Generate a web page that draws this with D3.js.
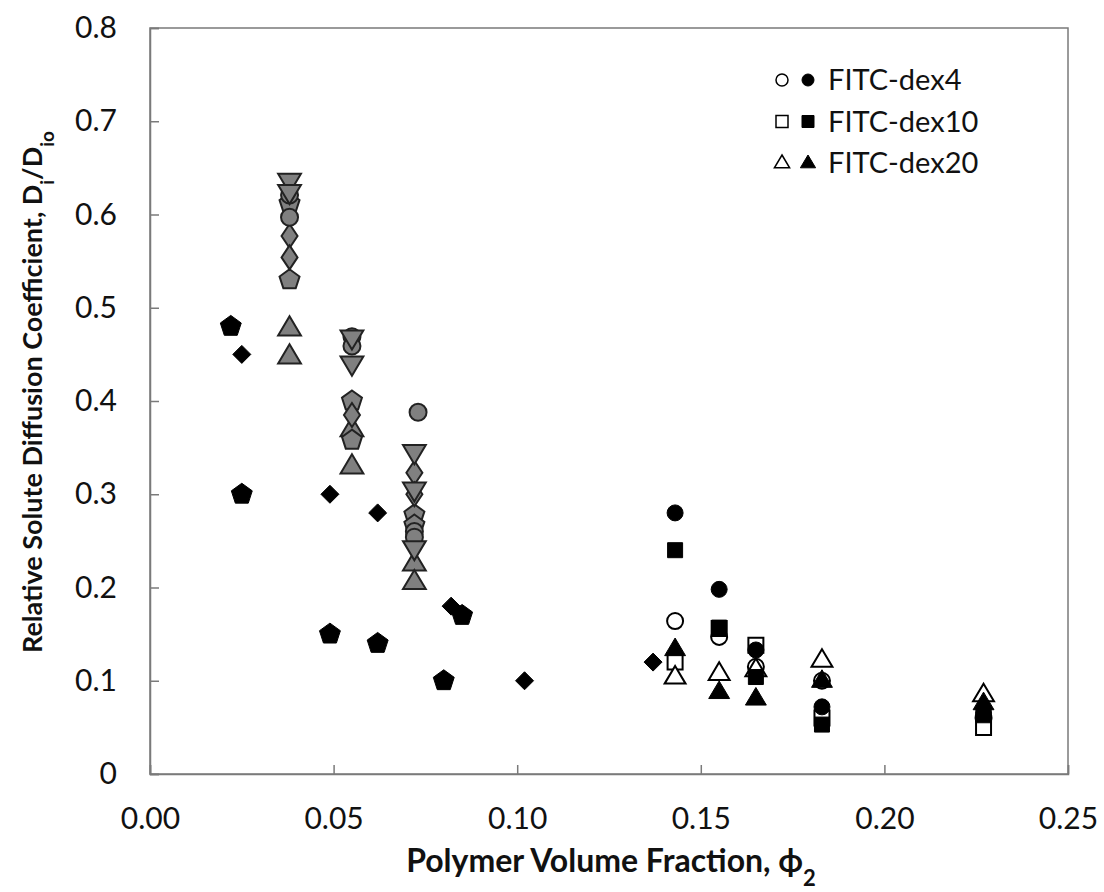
<!DOCTYPE html>
<html><head><meta charset="utf-8">
<script src="https://cdn.jsdelivr.net/npm/d3@7"></script>
<style>body{margin:0;background:#fff}</style>
</head><body>
<svg id="c" width="1104" height="892"></svg>
<script>
const xTicks = [0, 0.05, 0.10, 0.15, 0.20, 0.25];
const yTicks = [0, 0.1, 0.2, 0.3, 0.4, 0.5, 0.6, 0.7, 0.8];

// black (literature) series
const blackPentagon = [[0.022,0.48],[0.025,0.30],[0.049,0.15],[0.062,0.14],[0.080,0.10],[0.085,0.17]];
const blackDiamond = [[0.025,0.45],[0.049,0.30],[0.062,0.28],[0.082,0.18],[0.102,0.10],[0.137,0.12]];

// gray series
const grayTriUp = [[0.038,0.478],[0.038,0.448],[0.055,0.370],[0.055,0.330],[0.072,0.226],[0.072,0.206]];
const grayPentagon = [[0.038,0.530],[0.038,0.612],[0.055,0.400],[0.055,0.358],[0.072,0.278],[0.072,0.267]];
const grayDiamond = [[0.038,0.577],[0.038,0.554],[0.055,0.385],[0.072,0.323],[0.072,0.300]];
const grayCircle = [[0.038,0.621],[0.038,0.597],[0.055,0.469],[0.055,0.459],[0.073,0.388],[0.072,0.260],[0.072,0.254]];
const grayTriDown = [[0.038,0.636],[0.038,0.624],[0.055,0.468],[0.055,0.440],[0.072,0.345],[0.072,0.305],[0.072,0.242]];

// FITC-dextran series
const phi = [0.143, 0.155, 0.165, 0.183, 0.227];
const dex4Open = [0.164, 0.147, 0.115, 0.100, 0.060];
const dex4Filled = [0.280, 0.198, 0.133, 0.072, 0.065];
const dex10Open = [0.120, 0.156, 0.138, 0.060, 0.050];
const dex10Filled = [0.240, 0.157, 0.104, 0.053, 0.063];
const dex20Open = [0.104, 0.108, 0.112, 0.122, 0.085];
const dex20Filled = [0.134, 0.088, 0.081, 0.100, 0.076];

const legendNames = ["FITC-dex4", "FITC-dex10", "FITC-dex20"];

const svg = d3.select("#c");
const L = 150, R = 1068, T = 28, B = 774;
const x = d3.scaleLinear().domain([0, 0.25]).range([L, R]);
const y = d3.scaleLinear().domain([0, 0.8]).range([B, T]);
const FONT = "Lato, 'Open Sans', sans-serif";

// frame
svg.append("rect").attr("x", L).attr("y", T).attr("width", R - L).attr("height", B - T)
  .attr("fill", "none").attr("stroke", "#7a7a7a").attr("stroke-width", 1.5);

const xAx = svg.append("g").attr("transform", `translate(0,${B})`)
  .call(d3.axisBottom(x).tickValues(xTicks).tickSize(-9).tickPadding(34).tickFormat(d3.format(".2f")));
const yAx = svg.append("g").attr("transform", `translate(${L},0)`)
  .call(d3.axisLeft(y).tickValues(yTicks).tickSize(-9).tickPadding(33).tickFormat(d => d === 0 ? "0" : d3.format(".1f")(d)));
[xAx, yAx].forEach(g => {
  g.select(".domain").attr("stroke", "#7a7a7a").attr("stroke-width", 1.5);
  g.selectAll(".tick line").attr("stroke", "#7a7a7a").attr("stroke-width", 1.5);
  g.selectAll("text").attr("font-family", FONT).attr("font-size", 30).attr("fill", "#111");
});

// axis titles
svg.append("text").attr("x", 611).attr("y", 872).attr("text-anchor", "middle")
  .attr("font-family", FONT).attr("font-weight", "bold").attr("font-size", 32).attr("fill", "#111")
  .html('Polymer Volume Fraction, ϕ<tspan baseline-shift="sub" font-size="22">2</tspan>');
svg.append("text").attr("transform", "translate(42,392) rotate(-90)").attr("text-anchor", "middle")
  .attr("font-family", FONT).attr("font-weight", "bold").attr("font-size", 27).attr("fill", "#111")
  .html('Relative Solute Diffusion Coefficient, D<tspan baseline-shift="sub" font-size="19">i</tspan>/D<tspan baseline-shift="sub" font-size="19">io</tspan>');

function pentagonPath(r) {
  const pts = d3.range(5).map(i => { const a = -Math.PI / 2 + i * 2 * Math.PI / 5; return [r * Math.cos(a), r * Math.sin(a)]; });
  return "M" + pts.map(p => p.join(",")).join("L") + "Z";
}
function triPath(r, down) {
  const s = down ? -1 : 1;
  return `M0,${-s * r}L${r * 0.95},${s * r * 0.6}L${-r * 0.95},${s * r * 0.6}Z`;
}
function diamondPath(w, h) { return `M0,${-h}L${w},0L0,${h}L${-w},0Z`; }
function circlePath(r) { return d3.arc()({innerRadius:0, outerRadius:r, startAngle:0, endAngle:2*Math.PI}); }
function squarePath(h) { return `M${-h},${-h}L${h},${-h}L${h},${h}L${-h},${h}Z`; }

function plot(data, path, fill, stroke, sw) {
  svg.append("g").selectAll("path").data(data).join("path")
    .attr("transform", d => `translate(${x(d[0])},${y(d[1])})`)
    .attr("d", path).attr("fill", fill).attr("stroke", stroke).attr("stroke-width", sw);
}

plot(blackPentagon, pentagonPath(11), "#000", "#000", 1);
plot(blackDiamond, diamondPath(9, 9), "#000", "#000", 1);

const G = "#808080", GS = "#222";
plot(grayTriUp, triPath(12, false), G, GS, 2);
plot(grayPentagon, pentagonPath(10.5), G, GS, 2);
plot(grayDiamond, diamondPath(8, 12), G, GS, 2);
plot(grayCircle, circlePath(8.5), G, GS, 2);
plot(grayTriDown, triPath(12, true), G, GS, 2);

const zip = vals => phi.map((p, i) => [p, vals[i]]);
plot(zip(dex4Open), circlePath(8), "#fff", "#000", 2);
plot(zip(dex10Open), squarePath(7.5), "#fff", "#000", 2);
plot(zip(dex20Open), triPath(11, false), "#fff", "#000", 2);
plot(zip(dex4Filled), circlePath(8), "#000", "#000", 1);
plot(zip(dex10Filled), squarePath(7.5), "#000", "#000", 1);
plot(zip(dex20Filled), triPath(11, false), "#000", "#000", 1);

const lg = svg.append("g");
const legShapes = [circlePath(6), squarePath(6), triPath(8, false)];
legendNames.forEach((name, i) => {
  const yy = 80 + i * 41.5;
  lg.append("path").attr("transform", `translate(782,${yy})`).attr("d", legShapes[i]).attr("fill", "#fff").attr("stroke", "#000").attr("stroke-width", 1.5);
  lg.append("path").attr("transform", `translate(808,${yy})`).attr("d", legShapes[i]).attr("fill", "#000").attr("stroke", "#000").attr("stroke-width", 1);
  lg.append("text").attr("x", 828).attr("y", yy).attr("dy", "0.36em").attr("font-family", FONT).attr("font-size", 29).attr("fill", "#111").text(name);
});
</script>
</body></html>
